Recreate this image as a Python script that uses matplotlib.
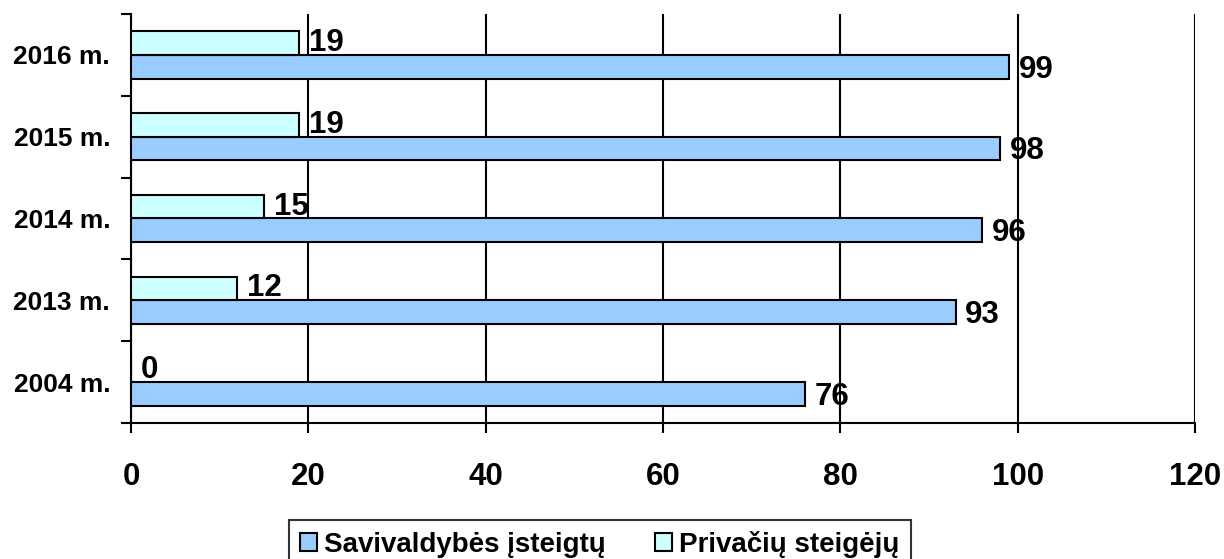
import numpy as np
import matplotlib
matplotlib.use('Agg')
import matplotlib.pyplot as plt
from matplotlib.ticker import FixedLocator, NullFormatter

# data
years = ['2004 m.', '2013 m.', '2014 m.', '2015 m.', '2016 m.']
savivaldybes = [76, 93, 96, 98, 99]
privaciu = [0, 12, 15, 19, 19]

plt.rcParams['font.family'] = ['Liberation Sans', 'DejaVu Sans']
plt.rcParams['font.weight'] = 'bold'

fig = plt.figure(figsize=(12.24, 5.59), dpi=100)
ax = fig.add_axes([0.1070, 0.2433, 0.8693, 0.7317])

y = np.arange(len(years))
h = 0.29
bars_s = ax.barh(y - h / 2, savivaldybes, height=h, color='#99CCFF',
                 edgecolor='black', linewidth=1.5, label='Savivaldybės įsteigtų', zorder=3)
bars_p = ax.barh(y + h / 2, privaciu, height=h, color='#CCFFFF',
                 edgecolor='black', linewidth=1.5, label='Privačių steigėjų', zorder=3)

# value labels next to bar ends
for yy, v in zip(y - h / 2, savivaldybes):
    ax.annotate(str(v), (v, yy), xytext=(7, -2), textcoords='offset points',
                ha='left', va='center', fontsize=22.5, fontweight='bold')
for yy, v in zip(y + h / 2, privaciu):
    ax.annotate(str(v), (v, yy), xytext=(7, 0), textcoords='offset points',
                ha='left', va='center', fontsize=22.5, fontweight='bold')

ax.set_xlim(0, 120)
ax.set_ylim(-0.5, len(years) - 0.5)
ax.set_xticks(np.arange(0, 121, 20))
ax.tick_params(axis='x', labelsize=22.5, length=7, width=1.5, pad=21, direction='out')

# ticks between categories, labels at the centres
ax.yaxis.set_major_locator(FixedLocator(np.arange(-0.5, len(years), 1.0)))
ax.yaxis.set_major_formatter(NullFormatter())
ax.yaxis.set_minor_locator(FixedLocator(y))
ax.set_yticklabels(years, minor=True)
ax.tick_params(axis='y', which='major', length=7, width=1.5, direction='out')
ax.tick_params(axis='y', which='minor', length=0, labelsize=19, pad=15)

ax.xaxis.grid(True, color='black', linewidth=1.5, zorder=0)
ax.axvline(120, color='#c0c0c0', linewidth=1, zorder=0)
for side in ['top', 'right']:
    ax.spines[side].set_visible(False)
for side in ['left', 'bottom']:
    ax.spines[side].set_linewidth(1.5)

leg = fig.legend(handles=[bars_s, bars_p], loc='upper center',
                 bbox_to_anchor=(0.49, 0.0698), ncol=2, fontsize=20,
                 frameon=True, fancybox=False, edgecolor='black',
                 handlelength=0.6, handleheight=0.6, handletextpad=0.25,
                 columnspacing=1.8, borderpad=0.4, borderaxespad=0)
leg.get_frame().set_linewidth(1.5)

plt.savefig('out.png', dpi=100)
